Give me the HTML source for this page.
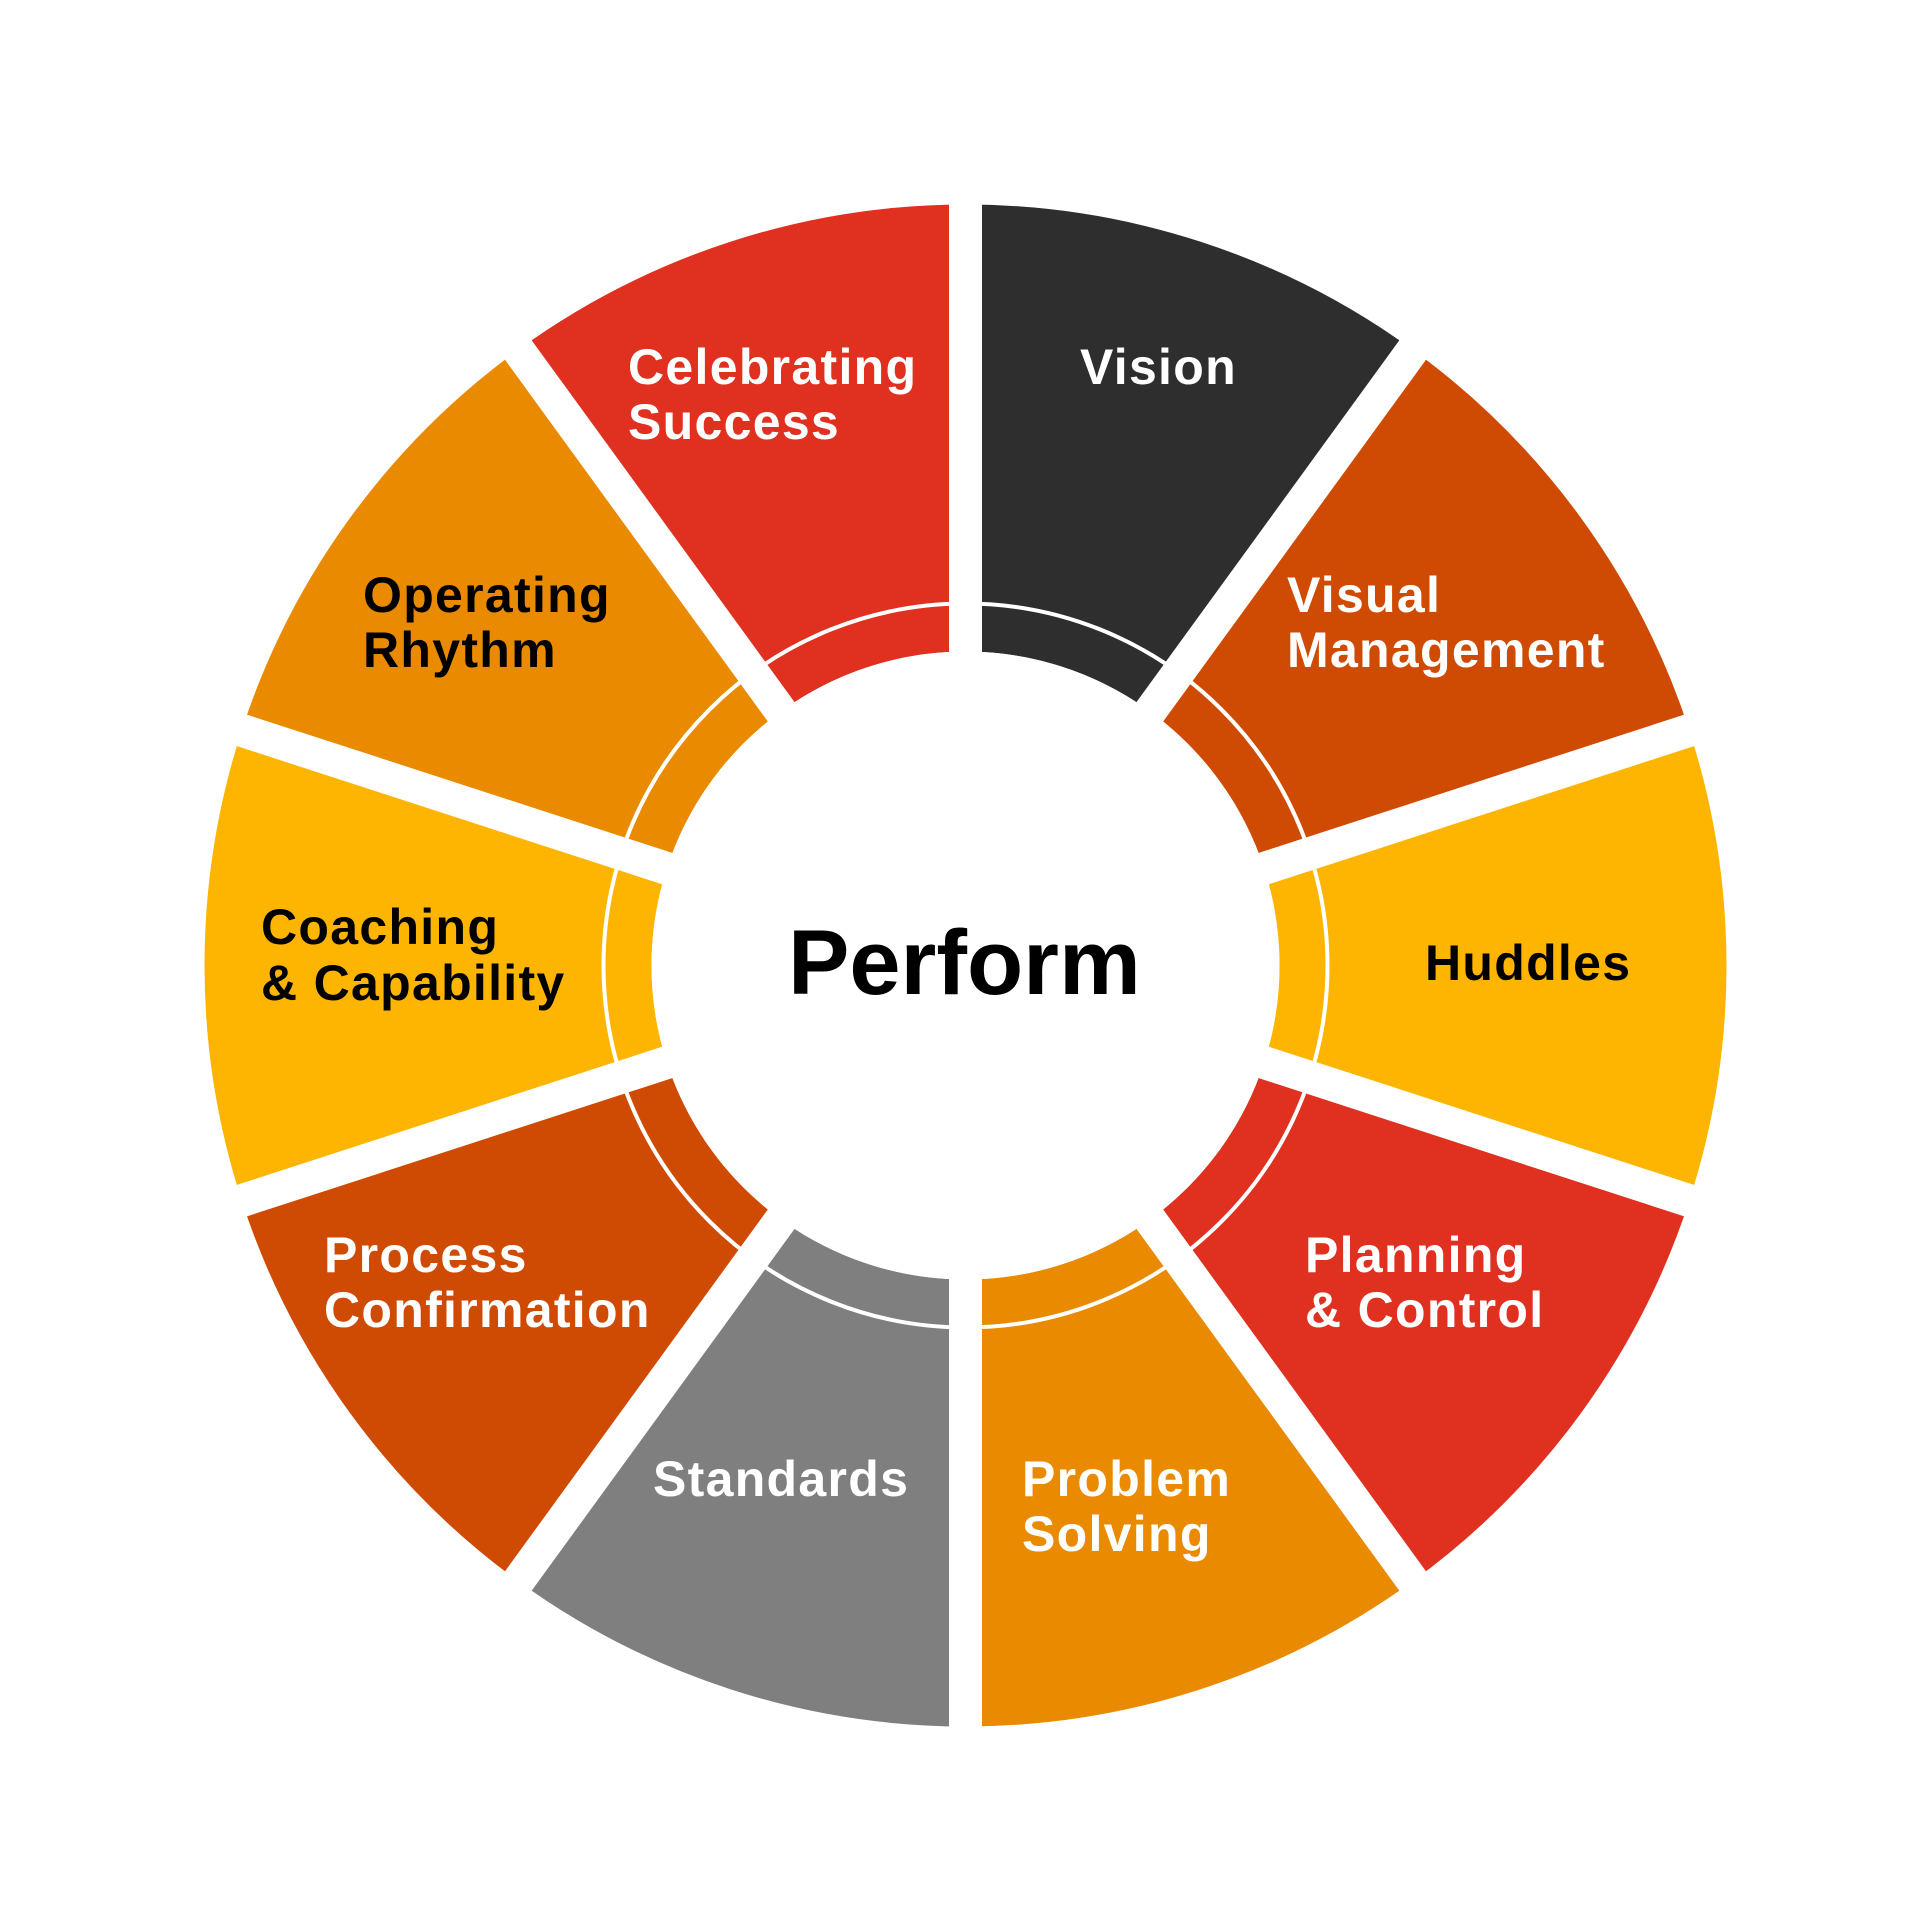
<!DOCTYPE html>
<html><head><meta charset="utf-8"><style>html,body{margin:0;padding:0;background:#fff}svg{display:block}</style></head>
<body>
<svg width="1931" height="1931" viewBox="0 0 1931 1931" xmlns="http://www.w3.org/2000/svg">
<rect width="1931" height="1931" fill="#fff"/>
<g fill="none" stroke-width="447" stroke-dasharray="337.72 3377.2">
<circle cx="965.5" cy="965.5" r="537.5" stroke="#2e2e2e" transform="rotate(-90 965.5 965.5)"/>
<circle cx="965.5" cy="965.5" r="537.5" stroke="#cf4a02" transform="rotate(-54 965.5 965.5)"/>
<circle cx="965.5" cy="965.5" r="537.5" stroke="#fdb501" transform="rotate(-18 965.5 965.5)"/>
<circle cx="965.5" cy="965.5" r="537.5" stroke="#e03020" transform="rotate(18 965.5 965.5)"/>
<circle cx="965.5" cy="965.5" r="537.5" stroke="#e98a00" transform="rotate(54 965.5 965.5)"/>
<circle cx="965.5" cy="965.5" r="537.5" stroke="#7f7f7f" transform="rotate(90 965.5 965.5)"/>
<circle cx="965.5" cy="965.5" r="537.5" stroke="#cf4a02" transform="rotate(126 965.5 965.5)"/>
<circle cx="965.5" cy="965.5" r="537.5" stroke="#fdb501" transform="rotate(162 965.5 965.5)"/>
<circle cx="965.5" cy="965.5" r="537.5" stroke="#e98a00" transform="rotate(198 965.5 965.5)"/>
<circle cx="965.5" cy="965.5" r="537.5" stroke="#e03020" transform="rotate(234 965.5 965.5)"/>
</g>
<circle cx="965.5" cy="965.5" r="362" fill="none" stroke="#fff" stroke-width="4"/>
<g stroke="#fff" stroke-width="33">
<line x1="965.5" y1="100" x2="965.5" y2="1831"/>
<line x1="965.5" y1="100" x2="965.5" y2="1831" transform="rotate(36 965.5 965.5)"/>
<line x1="965.5" y1="100" x2="965.5" y2="1831" transform="rotate(72 965.5 965.5)"/>
<line x1="965.5" y1="100" x2="965.5" y2="1831" transform="rotate(108 965.5 965.5)"/>
<line x1="965.5" y1="100" x2="965.5" y2="1831" transform="rotate(144 965.5 965.5)"/>
</g>
<circle cx="965.5" cy="965.5" r="314" fill="#fff"/>
<g font-family="Liberation Sans, Arial, sans-serif" font-weight="bold" font-size="50" letter-spacing="1.3" dominant-baseline="central">
<text x="628" y="367" fill="#fff">Celebrating</text>
<text x="628" y="422" fill="#fff">Success</text>
<text x="1080" y="367" fill="#fff">Vision</text>
<text x="1287" y="595" fill="#fff">Visual</text>
<text x="1287" y="650" fill="#fff">Management</text>
<text x="1425" y="963" fill="#000">Huddles</text>
<text x="1305" y="1255" fill="#fff">Planning</text>
<text x="1305" y="1310" fill="#fff">&amp; Control</text>
<text x="1022" y="1479" fill="#fff">Problem</text>
<text x="1022" y="1534" fill="#fff">Solving</text>
<text x="653" y="1479" fill="#fff">Standards</text>
<text x="324" y="1255" fill="#fff">Process</text>
<text x="324" y="1310" fill="#fff">Confirmation</text>
<text x="261" y="927" fill="#000">Coaching</text>
<text x="261" y="983" fill="#000">&amp; Capability</text>
<text x="363" y="595" fill="#000">Operating</text>
<text x="363" y="650" fill="#000">Rhythm</text>
<text x="788" y="963" fill="#000" font-size="92" letter-spacing="0">Perform</text>
</g>
</svg>
</body></html>
